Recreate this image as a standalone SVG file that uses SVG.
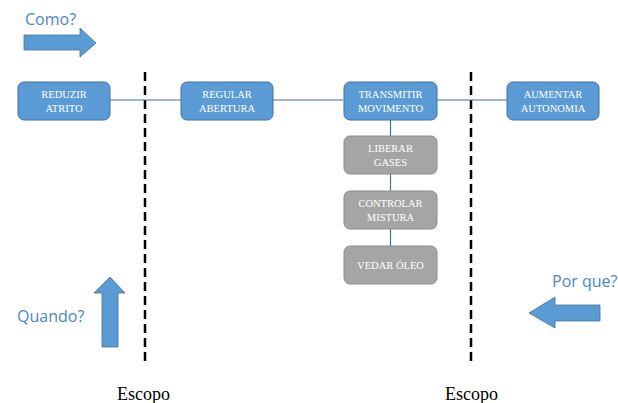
<svg xmlns="http://www.w3.org/2000/svg" width="618" height="403" viewBox="0 0 618 403">
<defs>
<style>
.bl{fill:#5B9BD5;stroke:#41719C;stroke-width:1}
.gr{fill:#A5A5A5;stroke:#8C8C8C;stroke-width:1}
.bt{font-family:"Liberation Serif",serif;font-size:10.5px;fill:#fff;text-anchor:middle}
.q{font-family:"Open Sans","Liberation Sans",sans-serif;font-size:16px;fill:#4A86C8}
.esc{font-family:"Liberation Serif",serif;font-size:18px;fill:#000}
.con{stroke:#41719C;stroke-width:1.2;fill:none}
.dash{stroke:#000;stroke-width:2.5;stroke-dasharray:9,5;fill:none}
.arr{fill:#5B9BD5;stroke:#41719C;stroke-width:0.8}
</style>
</defs>
<rect width="618" height="403" fill="#fff"/>
<line class="dash" x1="145" y1="72" x2="145" y2="366"/>
<line class="dash" x1="471" y1="72" x2="471" y2="366"/>
<g id="connectors">
<line class="con" x1="110" y1="100" x2="181" y2="100"/>
<line class="con" x1="273" y1="100" x2="343" y2="100"/>
<line class="con" x1="437" y1="100" x2="507" y2="100"/>
<line class="con" x1="390.5" y1="120" x2="390.5" y2="136"/>
<line class="con" x1="390.5" y1="174" x2="390.5" y2="191"/>
<line class="con" x1="390.5" y1="229" x2="390.5" y2="246"/>
</g>
<g id="reduzir"><rect class="bl" x="18" y="82" width="92" height="38" rx="6"/><text class="bt" x="64" y="98">REDUZIR</text><text class="bt" x="64" y="112">ATRITO</text></g>
<g id="regular"><rect class="bl" x="181" y="82" width="92" height="38" rx="6"/><text class="bt" x="227" y="98">REGULAR</text><text class="bt" x="227" y="112">ABERTURA</text></g>
<g id="transmitir"><rect class="bl" x="344" y="82" width="93" height="38" rx="6"/><text class="bt" x="390.5" y="98">TRANSMITIR</text><text class="bt" x="390.5" y="112">MOVIMENTO</text></g>
<g id="aumentar"><rect class="bl" x="507" y="82" width="92" height="38" rx="6"/><text class="bt" x="553" y="98">AUMENTAR</text><text class="bt" x="553" y="112">AUTONOMIA</text></g>
<g id="liberar"><rect class="gr" x="344" y="136" width="93" height="38" rx="6"/><text class="bt" x="390.5" y="152">LIBERAR</text><text class="bt" x="390.5" y="166">GASES</text></g>
<g id="controlar"><rect class="gr" x="344" y="191" width="93" height="38" rx="6"/><text class="bt" x="390.5" y="207">CONTROLAR</text><text class="bt" x="390.5" y="221">MISTURA</text></g>
<g id="vedar"><rect class="gr" x="344" y="246" width="93" height="38" rx="6"/><text class="bt" x="390.5" y="269">VEDAR ÓLEO</text></g>
<g id="como"><text class="q" x="25" y="25">Como?</text><polygon class="arr" points="24,35 80,35 80,28 96,43 80,57 80,50 24,50"/></g>
<g id="quando"><text class="q" x="17" y="322">Quando?</text><polygon class="arr" points="102,347 102,293 94,293 110,277 125,293 118,293 118,347"/></g>
<g id="porque"><text class="q" x="552" y="287">Por que?</text><polygon class="arr" points="600,305 555,305 555,297 529,313 555,328 555,321 600,321"/></g>
<text class="esc" x="117" y="400">Escopo</text>
<text class="esc" x="445" y="400">Escopo</text>
</svg>
